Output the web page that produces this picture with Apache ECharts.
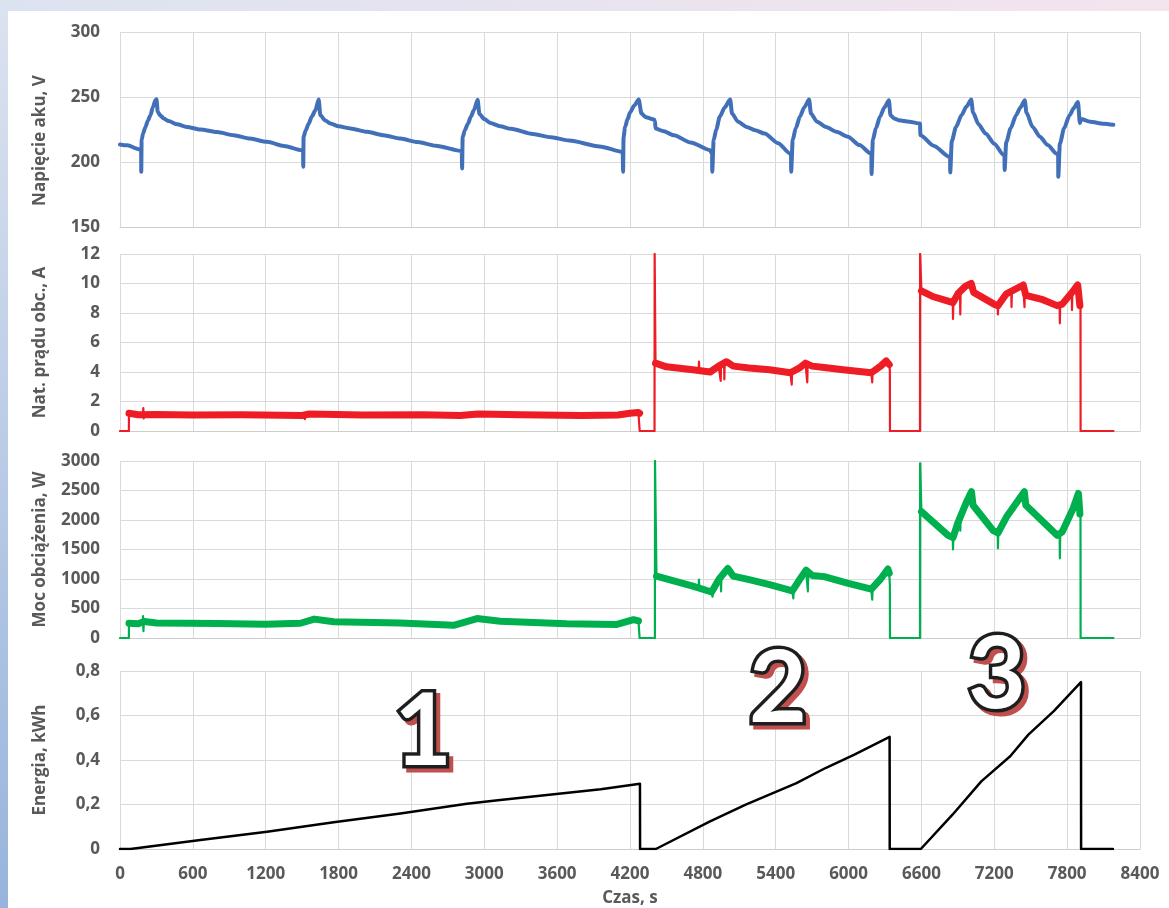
<!DOCTYPE html>
<html>
<head>
<meta charset="utf-8">
<script src="https://cdn.jsdelivr.net/npm/echarts@6/dist/echarts.min.js"></script>
<style>
  html, body { margin: 0; padding: 0; background: #fff; }
  #chart { width: 1169px; height: 908px; }
</style>
</head>
<body>
<div id="chart"></div>
<script>
// ---- battery voltage, V : [time s, value] ----
const voltage = [
  [0, 213.5], [60, 212.8], [155, 209.9], [174, 209.5], [175, 192.5], [178, 216.8], [190, 222], [210, 227], [230, 232],
  [251, 236], [270, 242], [292, 247.5], [300, 248.2], [311, 238.6], [330, 236], [361, 233.4], [400, 231.5], [471, 229],
  [550, 227], [662, 225], [800, 223], [936, 220.6], [1070, 218], [1210, 215.5], [1350, 212.3], [1500, 209],
  [1508, 208.5], [1509, 196.3], [1512, 219.4], [1530, 224.5], [1554, 229.6], [1580, 235], [1609, 239.8], [1636, 248],
  [1650, 236], [1690, 232], [1733, 229.6], [1800, 227.5], [1897, 225.8], [2034, 223.2], [2170, 220.6], [2309, 218],
  [2450, 215.3], [2600, 212.5], [2815, 208.5],
  [2817, 195], [2822, 219], [2840, 224.5], [2865, 229.5], [2890, 235], [2915, 240], [2945, 247.8], [2960, 237],
  [3000, 233], [3050, 230], [3130, 227.5], [3220, 225.5], [3400, 221.5], [3550, 219], [3700, 216.5], [3950, 212], [4140, 207.8],
  [4143, 192.5], [4147, 219], [4160, 227], [4180, 233], [4200, 238], [4235, 243.5], [4272, 248], [4294, 237.3],
  [4330, 234.5], [4398, 232.7], [4406, 231.5], [4410, 225.8], [4470, 223.8], [4562, 220.6], [4700, 215], [4860, 209.1], [4876, 206],
  [4877, 192.5], [4889, 216.8], [4910, 225], [4940, 235], [4980, 242], [5025, 248], [5040, 237.3], [5090, 231],
  [5159, 227], [5230, 224.5], [5308, 221.9], [5420, 214.5], [5517, 206.6], [5526, 206],
  [5527, 192.5], [5540, 217], [5565, 226], [5600, 235], [5635, 242], [5675, 248], [5690, 237.3], [5740, 231],
  [5815, 227], [5900, 223.2], [5995, 219.4], [6090, 213], [6182, 206.6], [6188, 206],
  [6189, 190.7], [6200, 217], [6225, 226], [6260, 235], [6295, 242], [6332, 247.5], [6345, 236], [6375, 233.5],
  [6412, 232.2], [6500, 231], [6588, 229.6], [6592, 220.6], [6700, 212.5], [6830, 204], [6836, 203.5],
  [6837, 192], [6850, 216], [6885, 227], [6930, 236], [6970, 242.5], [7010, 248], [7025, 238], [7070, 229],
  [7129, 221.9], [7200, 214], [7278, 205.3], [7284, 205],
  [7285, 193.8], [7298, 215], [7335, 226], [7380, 236], [7415, 242], [7451, 247.5], [7465, 238], [7515, 227],
  [7576, 219.4], [7640, 213], [7711, 206.6], [7726, 206],
  [7727, 188.6], [7740, 214], [7775, 226], [7820, 236], [7855, 241.5], [7889, 246.2], [7905, 230], [7915, 233],
  [7990, 231], [8100, 229.5], [8180, 228.6]
];

// ---- load current, A : raw trace with switching edges and dropouts ----
const currentTrace = [
  [0, 0], [73, 0], [74, 1.2], [150, 1.1], [190, 1.2], [192, 1.55], [195, 0.85], [198, 1.15], [300, 1.12], [600, 1.08],
  [1000, 1.1], [1500, 1.05], [1520, 1.0], [1522, 0.8], [1525, 1.05], [1560, 1.15], [2000, 1.08], [2500, 1.1],
  [2800, 1.05], [2950, 1.15], [3300, 1.1], [3800, 1.05], [4100, 1.08], [4200, 1.2], [4269, 1.25], [4279, 1.2],
  [4280, 0], [4402, 0], [4403, 12], [4410, 4.6],
  [4500, 4.35], [4717, 4.15], [4765, 4.1], [4768, 4.7], [4771, 4.1], [4860, 4.0], [4930, 4.4], [4945, 4.5],
  [4947, 3.4], [4950, 4.5], [4975, 4.6], [4977, 3.5], [4980, 4.6], [4995, 4.7], [5050, 4.4], [5181, 4.27],
  [5350, 4.15], [5521, 3.95], [5530, 4.0], [5532, 3.15], [5535, 4.05], [5600, 4.3], [5645, 4.6], [5658, 4.55],
  [5660, 3.3], [5663, 4.5], [5700, 4.4], [5800, 4.3], [5955, 4.15], [6187, 3.95], [6193, 4.0], [6195, 3.3],
  [6198, 4.05], [6264, 4.4], [6310, 4.75], [6335, 4.5], [6340, 4.1], [6341, 0], [6588, 0], [6589, 12], [6600, 9.5],
  [6700, 9.1], [6820, 8.8], [6858, 8.75], [6860, 7.6], [6863, 8.8], [6900, 9.3], [6918, 9.5], [6920, 7.9],
  [6923, 9.5], [6960, 9.8], [7010, 10.0], [7030, 9.4], [7198, 8.6], [7228, 8.5], [7230, 7.9], [7233, 8.6],
  [7300, 9.3], [7340, 9.5], [7342, 8.4], [7345, 9.5], [7438, 9.9], [7447, 9.8], [7449, 8.4], [7452, 9.7],
  [7460, 9.2], [7600, 8.9], [7717, 8.5], [7738, 8.55], [7740, 7.3], [7743, 8.6], [7800, 9.1], [7838, 9.4],
  [7840, 8.2], [7843, 9.4], [7887, 9.9], [7905, 8.5], [7910, 8.3], [7911, 0], [8181, 0]
];
// centre of the measurement noise band while the load is on (null = load off)
const currentBand = [
  [74, 1.2], [150, 1.1], [300, 1.12], [600, 1.08], [1000, 1.1], [1500, 1.05], [1560, 1.15], [2000, 1.08],
  [2500, 1.1], [2800, 1.05], [2950, 1.15], [3300, 1.1], [3800, 1.05], [4100, 1.08], [4200, 1.2], [4269, 1.25], [4279, 1.2],
  [4300, null],
  [4410, 4.6], [4500, 4.35], [4717, 4.15], [4860, 4.0], [4930, 4.4], [4995, 4.7], [5050, 4.4], [5181, 4.27],
  [5350, 4.15], [5521, 3.95], [5600, 4.3], [5645, 4.6], [5700, 4.4], [5800, 4.3], [5955, 4.15], [6187, 3.95],
  [6264, 4.4], [6310, 4.75], [6335, 4.5],
  [6400, null],
  [6600, 9.5], [6700, 9.1], [6820, 8.8], [6860, 8.7], [6900, 9.3], [6960, 9.8], [7010, 10.0], [7030, 9.4],
  [7198, 8.6], [7230, 8.5], [7300, 9.3], [7438, 9.9], [7460, 9.2], [7600, 8.9], [7717, 8.5], [7760, 8.6],
  [7850, 9.5], [7887, 9.9], [7905, 8.5]
];

// ---- load power, W ----
const powerTrace = [
  [0, 0], [73, 0], [74, 250], [150, 240], [188, 270], [190, 370], [193, 115], [196, 260], [200, 280], [300, 255],
  [800, 245], [1200, 235], [1485, 250], [1600, 320], [1760, 275], [2309, 255], [2747, 215], [2940, 330],
  [3132, 285], [3680, 240], [4092, 230], [4229, 310], [4270, 290], [4278, 280], [4279, 0], [4405, 0],
  [4406, 3000], [4418, 1050],
  [4717, 880], [4765, 870], [4768, 990], [4771, 865], [4872, 780], [4877, 770], [4880, 700], [4883, 790],
  [4934, 1000], [4947, 1040], [4950, 790], [4953, 1050], [5005, 1180], [5050, 1050], [5181, 990], [5350, 905],
  [5537, 800], [5542, 795], [5545, 670], [5548, 810], [5600, 1000], [5650, 1150], [5663, 1120], [5665, 790],
  [5668, 1110], [5700, 1060], [5800, 1040], [5990, 930], [6187, 830], [6193, 825], [6195, 650], [6198, 835],
  [6264, 1000], [6324, 1170], [6335, 1100], [6340, 900], [6341, 0], [6588, 0], [6589, 2960], [6600, 2143],
  [6820, 1740], [6858, 1705], [6860, 1500], [6863, 1710], [6900, 1950], [6918, 2050], [6920, 1820], [6923, 2060],
  [6970, 2300], [7012, 2480], [7025, 2250], [7191, 1820], [7228, 1785], [7230, 1520], [7233, 1790], [7300, 2050],
  [7447, 2480], [7460, 2250], [7717, 1740], [7738, 1745], [7740, 1350], [7743, 1750], [7760, 1800], [7850, 2200],
  [7893, 2450], [7905, 2100], [7910, 2050], [7911, 0], [8181, 0]
];
const powerBand = [
  [74, 250], [150, 240], [200, 280], [300, 255], [800, 245], [1200, 235], [1485, 250], [1600, 320], [1760, 275],
  [2309, 255], [2747, 215], [2940, 330], [3132, 285], [3680, 240], [4092, 230], [4229, 310], [4270, 290],
  [4300, null],
  [4418, 1050], [4717, 880], [4872, 780], [4934, 1000], [5005, 1180], [5050, 1050], [5181, 990], [5350, 905],
  [5537, 800], [5600, 1000], [5650, 1150], [5700, 1060], [5800, 1040], [5990, 930], [6187, 830], [6264, 1000],
  [6324, 1170], [6335, 1100],
  [6400, null],
  [6600, 2143], [6820, 1740], [6860, 1700], [6900, 1950], [6970, 2300], [7012, 2480], [7025, 2250], [7191, 1820],
  [7230, 1780], [7300, 2050], [7447, 2480], [7460, 2250], [7717, 1740], [7760, 1800], [7850, 2200], [7893, 2450],
  [7905, 2100]
];

// ---- energy, kWh ----
const energy = [
  [0, 0], [86, 0], [662, 0.04], [1211, 0.078], [1760, 0.12], [2309, 0.16], [2857, 0.203], [3131, 0.22],
  [3959, 0.269], [4282, 0.293], [4283, 0], [4413, 0],
  [4855, 0.123], [5153, 0.199], [5571, 0.296], [5810, 0.364], [6048, 0.424], [6338, 0.504], [6339, 0], [6595, 0],
  [6854, 0.153], [7093, 0.304], [7331, 0.417], [7481, 0.514], [7690, 0.62], [7914, 0.75], [7915, 0], [8177, 0]
];

// ---- axes ----
const axisTitles = ['Napięcie aku, V', 'Nat. prądu obc., A', 'Moc obciążenia, W', 'Energia, kWh'];
const yMin = [150, 0, 0, 0];
const yMax = [300, 12, 3000, 0.8];
const yStep = [50, 2, 500, 0.2];
const timeMin = 0, timeMax = 8400, timeStep = 600;
const timeTitle = 'Czas, s';
const phaseLabels = ['1', '2', '3'];

const seriesColors = ['#4170b9', '#ee1c25', '#00b04f', '#000000'];
const textColor = '#595959';
const font = 'Open Sans';
const fontSize = 17;

const gridBoxes = [
  { top: 32, height: 195 },
  { top: 254, height: 177 },
  { top: 461, height: 177 },
  { top: 671, height: 178 }
];

const grids = gridBoxes.map(g => ({ left: 120, right: 29, top: g.top, height: g.height }));

const xAxes = gridBoxes.map((g, i) => ({
  type: 'value', gridIndex: i, min: timeMin, max: timeMax, interval: timeStep,
  axisLine: { show: true, lineStyle: { color: '#cdcdcd', width: 1 } },
  axisTick: { show: false },
  splitLine: { show: true, lineStyle: { color: '#dadada', width: 1 } },
  axisLabel: { show: i === 3, color: textColor, fontFamily: font, fontWeight: 'bold', fontSize: fontSize, margin: 17,
    formatter: v => String(v) },
  name: i === 3 ? timeTitle : '', nameLocation: 'middle', nameGap: 41,
  nameTextStyle: { color: textColor, fontFamily: font, fontWeight: 'bold', fontSize: fontSize }
}));

const yAxes = gridBoxes.map((g, i) => ({
  type: 'value', gridIndex: i, min: yMin[i], max: yMax[i], interval: yStep[i],
  axisLine: { show: false }, axisTick: { show: false },
  splitLine: { show: true, lineStyle: { color: '#dadada', width: 1 } },
  axisLabel: {
    color: textColor, fontFamily: font, fontWeight: 'bold', fontSize: fontSize, margin: 20,
    formatter: i === 3 ? (v => v === 0 ? '0' : v.toFixed(1).replace('.', ',')) : (v => String(v))
  },
  name: axisTitles[i], nameLocation: 'middle', nameGap: 71,
  nameTextStyle: { color: textColor, fontFamily: font, fontWeight: 'bold', fontSize: fontSize,
    padding: i === 0 ? [0, 22, 0, 0] : 0 }
}));

function lineSeries(idx, data, width, extra) {
  return Object.assign({
    type: 'line', xAxisIndex: idx, yAxisIndex: idx,
    data: data.map(p => [p[0], p[1] === null ? '-' : p[1]]),
    showSymbol: false, symbol: 'none', connectNulls: false, animation: false, silent: true,
    lineStyle: { color: seriesColors[idx], width: width, join: 'round', cap: 'round' }
  }, extra || {});
}

const series = [
  lineSeries(0, voltage, 4, { smooth: 0.25, smoothMonotone: 'x' }),
  lineSeries(1, currentTrace, 2.2),
  lineSeries(1, currentBand, 7),
  lineSeries(2, powerTrace, 2.2),
  lineSeries(2, powerBand, 7),
  lineSeries(3, energy, 2.5)
];

// big outlined phase numbers with a red drop shadow
const phasePos = [[423, 733], [778, 690], [997, 676]];
const phaseGraphics = [];
phaseLabels.forEach((txt, i) => {
  const [x, y] = phasePos[i];
  const base = { text: txt, fontSize: 100, fontWeight: 'bold', fontFamily: 'Lato',
    align: 'center', verticalAlign: 'middle' };
  phaseGraphics.push({ type: 'text', x: x + 4, y: y + 4, z: 10, silent: true,
    style: Object.assign({}, base, { fill: '#c0504d', stroke: '#c0504d', lineWidth: 7 }) });
  phaseGraphics.push({ type: 'text', x: x, y: y, z: 11, silent: true,
    style: Object.assign({}, base, { fill: '#ffffff', stroke: '#1e1e1e', lineWidth: 7, strokeFirst: true }) });
});

const frame = [
  { type: 'rect', z: -10, silent: true, shape: { x: 0, y: 0, width: 1169, height: 11 },
    style: { fill: new echarts.graphic.LinearGradient(0, 0, 1, 0, [
      { offset: 0, color: '#dce3f0' }, { offset: 1, color: '#f4e4ee' }]) } },
  { type: 'rect', z: -10, silent: true, shape: { x: 0, y: 0, width: 8, height: 908 },
    style: { fill: new echarts.graphic.LinearGradient(0, 0, 0, 1, [
      { offset: 0, color: '#dce3f0' }, { offset: 1, color: '#98b4dc' }]) } }
];

const chart = echarts.init(document.getElementById('chart'), null, { renderer: 'canvas' });
chart.setOption({
  backgroundColor: '#ffffff',
  animation: false,
  grid: grids,
  xAxis: xAxes,
  yAxis: yAxes,
  series: series,
  graphic: frame.concat(phaseGraphics)
});
</script>
</body>
</html>
